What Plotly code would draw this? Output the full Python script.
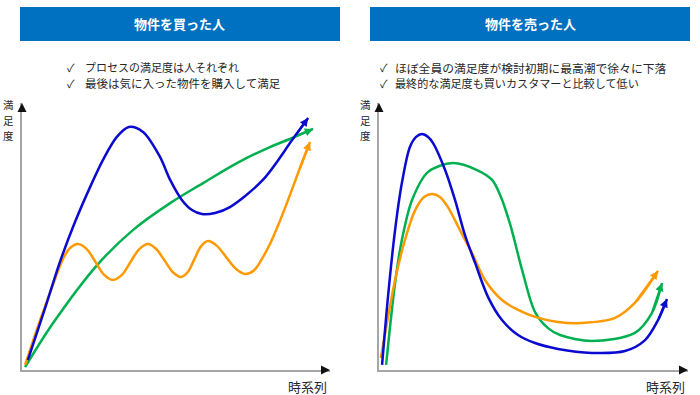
import plotly.graph_objects as go

# ---------------- data (schematic satisfaction curves, 0-100 scale) ----------------
# Left panel: buyers
buy_blue_x = [1.9, 7.5, 12.3, 17.2, 22.1, 26.3, 30.8, 34.7, 39.3, 44.8, 48.1, 51.9, 55.2, 58.4, 62.7, 67.5, 78.2, 87.7, 92.9]
buy_blue_y = [3.7, 23.2, 40.4, 55.4, 68.5, 78.7, 87.3, 91.0, 89.1, 79.8, 71.2, 63.7, 59.9, 58.4, 58.8, 61.0, 71.2, 86.1, 94.4]

buy_green_x = [1.0, 10.1, 24.4, 36.0, 48.1, 58.8, 69.8, 80.5, 87.7, 94.5]
buy_green_y = [1.1, 17.6, 39.3, 52.4, 62.5, 70.0, 77.5, 83.5, 86.9, 90.3]

buy_orange_x = [1.0, 5.8, 10.4, 13.3, 15.6, 18.2, 21.1, 23.9, 26.6, 29.5, 32.5, 35.2, 38.0, 40.9, 43.5, 46.3,
                49.0, 51.6, 53.9, 56.0, 58.1, 60.4, 63.3, 66.4, 69.5, 72.4, 75.3, 77.9, 80.5, 83.1, 86.4, 90.0, 93.5]
buy_orange_y = [1.9, 18.4, 33.0, 41.6, 45.7, 47.2, 45.2, 40.4, 35.7, 33.7, 35.7, 40.4, 45.2, 47.2, 45.4, 41.0,
                36.6, 34.8, 36.8, 41.6, 46.3, 48.3, 46.5, 42.1, 37.8, 36.0, 37.3, 41.6, 47.2, 54.0, 63.7, 74.9, 85.4]

# Right panel: sellers
sell_blue_x = [1.0, 2.9, 5.2, 7.4, 10.0, 12.0, 13.9, 15.9, 17.5, 21.4, 24.6, 27.8, 31.1, 35.3, 39.8, 45.0,
               50.5, 57.9, 68.9, 79.6, 86.1, 90.3, 93.2]
sell_blue_y = [1.9, 27.3, 52.4, 70.0, 83.5, 87.3, 88.4, 87.3, 85.0, 74.9, 63.7, 50.6, 40.1, 27.3, 18.7, 13.1,
               10.1, 7.9, 6.4, 7.1, 11.2, 18.7, 26.6]

sell_green_x = [2.3, 5.2, 7.4, 10.7, 15.9, 23.9, 31.7, 36.6, 39.2, 42.4, 46.3, 50.5, 54.7, 58.6, 68.9, 82.8, 88.3, 91.6]
sell_green_y = [1.9, 32.6, 48.7, 63.7, 74.2, 77.5, 74.9, 71.2, 65.5, 54.7, 37.5, 21.7, 15.7, 13.1, 10.9, 13.9, 21.3, 32.6]

sell_orange_x = [0.6, 5.2, 8.4, 11.7, 14.6, 17.2, 19.7, 22.3, 26.2, 30.1, 34.3, 39.8, 45.0, 50.5, 57.9, 65.7, 76.4, 82.8, 90.3]
sell_orange_y = [4.5, 33.7, 48.7, 59.9, 64.8, 65.9, 64.8, 61.0, 52.4, 43.8, 33.7, 26.2, 22.5, 19.9, 18.0, 17.6, 19.5, 25.1, 37.1]

titles = ["物件を買った人", "物件を売った人"]
bullets_left = ["プロセスの満足度は人それぞれ", "最後は気に入った物件を購入して満足"]
bullets_right = ["ほぼ全員の満足度が検討初期に最高潮で徐々に下落", "最終的な満足度も買いカスタマーと比較して低い"]
y_label = "満足度"
x_label = "時系列"

BLUE = "#0a0ad0"
GREEN = "#00b050"
ORANGE = "#ff9900"
HEADER = "#0070c0"
FONT = "Noto Sans CJK JP"

W, H = 700, 395
def px(x):
    return x / W
def py(y):
    return 1 - y / H

fig = go.Figure()
annotations = []

def curve(xs, ys, color, xa, ya):
    fig.add_trace(go.Scatter(
        x=xs, y=ys, xaxis=xa, yaxis=ya, mode="lines",
        line=dict(color=color, width=2.5, shape="spline", smoothing=0.9),
        hoverinfo="skip", showlegend=False))
    # arrowhead at the end of the curve
    annotations.append(dict(xref=xa, yref=ya, axref=xa, ayref=ya,
                            x=xs[-1], y=ys[-1], ax=xs[-2], ay=ys[-2],
                            showarrow=True, arrowhead=2, arrowsize=0.75, arrowwidth=2.2,
                            arrowcolor=color, text="", standoff=0))

curve(buy_green_x, buy_green_y, GREEN, "x", "y")
curve(buy_orange_x, buy_orange_y, ORANGE, "x", "y")
curve(buy_blue_x, buy_blue_y, BLUE, "x", "y")
curve(sell_green_x, sell_green_y, GREEN, "x2", "y2")
curve(sell_orange_x, sell_orange_y, ORANGE, "x2", "y2")
curve(sell_blue_x, sell_blue_y, BLUE, "x2", "y2")

ydom = [py(370), py(103)]
axcommon = dict(range=[0, 100], showgrid=False, zeroline=False, showticklabels=False,
                ticks="", showline=True, linecolor="#a6a6a6", linewidth=1.5, fixedrange=True)
fig.update_layout(
    xaxis=dict(domain=[px(22), px(330)], anchor="y", **axcommon),
    yaxis=dict(domain=ydom, anchor="x", **axcommon),
    xaxis2=dict(domain=[px(379), px(688)], anchor="y2", **axcommon),
    yaxis2=dict(domain=ydom, anchor="x2", **axcommon),
)

shapes = []
for i, (x0, x1) in enumerate([(20, 340), (370, 690)]):
    shapes.append(dict(type="rect", xref="paper", yref="paper", x0=px(x0), x1=px(x1),
                       y0=py(41), y1=py(7), fillcolor=HEADER, line=dict(width=0), layer="below"))
    annotations.append(dict(xref="paper", yref="paper", x=px((x0 + x1) / 2), y=py(24),
                            text="<b>" + titles[i] + "</b>", showarrow=False,
                            font=dict(family=FONT, size=13, color="white"),
                            xanchor="center", yanchor="middle"))

bullet_sizes = {0: [11.0, 11.5], 1: [11.8, 11.1]}
for p, (cx, tx, lines) in enumerate([(65, 83, bullets_left), (378, 393, bullets_right)]):
    for j, t in enumerate(lines):
        yy = 67 + 16 * j
        annotations.append(dict(xref="paper", yref="paper", x=px(cx), y=py(yy), text="✓",
                                showarrow=False, xanchor="left", yanchor="middle",
                                font=dict(family=FONT, size=11, color="#262626")))
        annotations.append(dict(xref="paper", yref="paper", x=px(tx), y=py(yy), text=t,
                                showarrow=False, xanchor="left", yanchor="middle",
                                font=dict(family=FONT, size=bullet_sizes[p][j], color="#262626")))

for (ylx, xlx, xa, ya) in [(8, 307, "x", "y"), (365, 665, "x2", "y2")]:
    for k, ch in enumerate(y_label):
        annotations.append(dict(xref="paper", yref="paper", x=px(ylx), y=py(105 + 15 * k),
                                text=ch, showarrow=False, xanchor="center", yanchor="middle",
                                font=dict(family=FONT, size=10.5, color="#262626")))
    annotations.append(dict(xref="paper", yref="paper", x=px(xlx), y=py(386), text=x_label,
                            showarrow=False, xanchor="center", yanchor="middle",
                            font=dict(family=FONT, size=13, color="#262626")))
    # axis arrowheads
    annotations.append(dict(xref=xa, yref=ya, axref=xa, ayref=ya, x=100, y=0, ax=97, ay=0,
                            showarrow=True, arrowhead=2, arrowsize=1.2, arrowwidth=1.5,
                            arrowcolor="#111111", text="", standoff=0))
    annotations.append(dict(xref=xa, yref=ya, axref=xa, ayref=ya, x=0, y=100, ax=0, ay=97,
                            showarrow=True, arrowhead=2, arrowsize=1.2, arrowwidth=1.5,
                            arrowcolor="#111111", text="", standoff=0))

fig.update_layout(
    width=W, height=H, margin=dict(l=0, r=0, t=0, b=0),
    paper_bgcolor="white", plot_bgcolor="white", showlegend=False,
    shapes=shapes, annotations=annotations,
    font=dict(family=FONT),
)

fig.write_html("out.html", config={"displayModeBar": False},
               post_script="document.body.style.margin='0';document.body.style.overflow='hidden';")
